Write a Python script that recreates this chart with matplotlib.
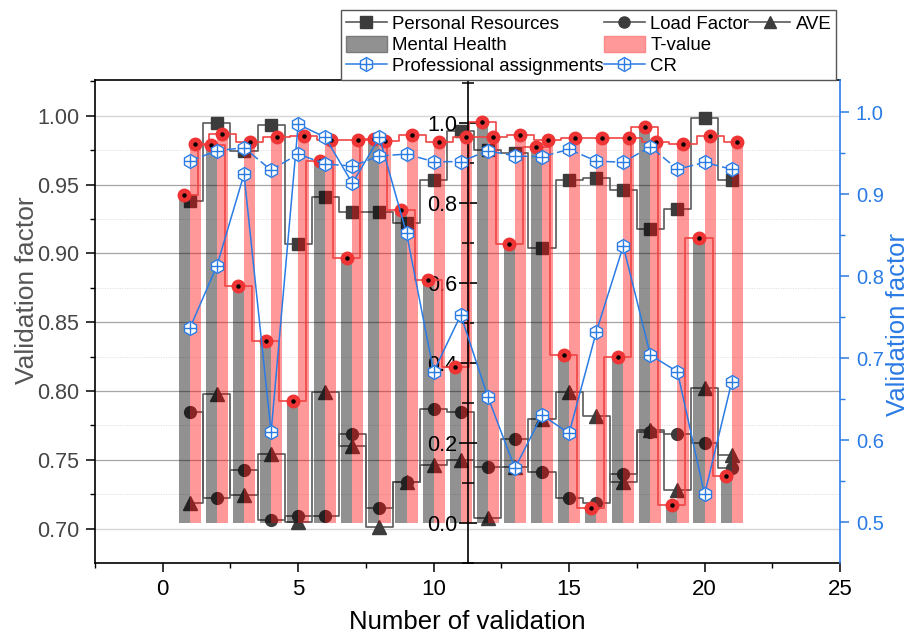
import numpy as np
import matplotlib
matplotlib.use('Agg')
import matplotlib.pyplot as plt
from matplotlib.lines import Line2D
from matplotlib.patches import Patch
from matplotlib.ticker import MultipleLocator, FormatStrFormatter

plt.rcParams['font.family'] = ['Liberation Sans', 'DejaVu Sans']

# data
x = np.arange(1, 22)
personal = [0.938, 0.995, 0.974, 0.993, 0.907, 0.941, 0.930, 0.930, 0.922, 0.953, 0.989,
            0.975, 0.973, 0.904, 0.953, 0.955, 0.946, 0.918, 0.932, 0.998, 0.953]
load = [0.785, 0.7225, 0.743, 0.706, 0.7095, 0.709, 0.769, 0.715, 0.734, 0.787, 0.785,
        0.745, 0.765, 0.741, 0.7225, 0.7185, 0.7395, 0.7705, 0.769, 0.762, 0.744]
ave = [0.7185, 0.798, 0.7245, 0.754, 0.705, 0.7995, 0.760, 0.7015, 0.734, 0.746, 0.750,
       0.7075, 0.7445, 0.780, 0.799, 0.782, 0.734, 0.772, 0.728, 0.8025, 0.7535]
mental = [0.819, 0.944, 0.592, 0.454, 0.304, 0.904, 0.661, 0.960, 0.782, 0.608, 0.388,
          1.003, 0.696, 0.940, 0.419, 0.0375, 0.413, 0.990, 0.044, 0.711, 0.1175]
tvalue = [0.946, 0.973, 0.953, 0.965, 0.968, 0.957, 0.957, 0.955, 0.969, 0.951, 0.965,
          0.965, 0.969, 0.957, 0.961, 0.963, 0.961, 0.953, 0.946, 0.968, 0.953]
prof = [0.7366, 0.8129, 0.9244, 0.6098, 0.9854, 0.9695, 0.9134, 0.9695, 0.8524, 0.6837, 0.7528,
        0.6532, 0.5659, 0.6309, 0.6085, 0.7317, 0.8370, 0.7040, 0.6837, 0.5341, 0.6707]
cr = [0.9406, 0.9532, 0.9568, 0.9296, 0.9491, 0.9370, 0.9345, 0.9467, 0.9491, 0.9398, 0.9398,
      0.9532, 0.9467, 0.9459, 0.9549, 0.9406, 0.9390, 0.9581, 0.9305, 0.9390, 0.9305]

dark = '#3c3c3c'
stepc = '#5a5a5a'
red = '#ee3434'
blue = '#2b7be5'
grey_txt = '#454545'

fig = plt.figure(figsize=(9.11, 6.37), dpi=100)
ax = fig.add_axes([95/911, 1-563/637, 745/911, 483/637])
ax_m = ax.twinx()
ax_r = ax.twinx()

# left axis: grid + dark step series
ax.set_xlim(-2.5, 25)
ax.set_ylim(0.6751, 1.0259)
for v in [0.70, 0.75, 0.80, 0.85, 0.90, 0.95, 1.00]:
    c = '#d6d6d6' if v in (0.70, 1.00) else '#a6a6a6'
    ax.axhline(v, color=c, lw=1.0 if v in (0.70, 1.00) else 0.9, zorder=0)
for v in [0.725, 0.775, 0.825, 0.875, 0.925, 0.975]:
    ax.axhline(v, color='#dcdcdc', lw=0.7, ls=(0, (1, 1.5)), zorder=0)

for vals, mk, ms in [(personal, 's', 8.5), (load, 'o', 8.5), (ave, '^', 9.5)]:
    ax.plot(x, vals, drawstyle='steps-mid', color=stepc, lw=1.2, zorder=2)
    ax.plot(x, vals, ls='none', marker=mk, ms=ms, color=dark, zorder=3)

ax.xaxis.set_major_locator(MultipleLocator(5))
ax.xaxis.set_minor_locator(MultipleLocator(2.5))
ax.yaxis.set_major_locator(MultipleLocator(0.05))
ax.yaxis.set_minor_locator(MultipleLocator(0.025))
ax.yaxis.set_major_formatter(FormatStrFormatter('%.2f'))
ax.tick_params(axis='both', which='major', direction='out', length=6.5, width=1.1, pad=5)
ax.tick_params(axis='both', which='minor', direction='out', length=3.6, width=1.0)
ax.tick_params(axis='y', labelsize=15.5, labelcolor=grey_txt)
ax.tick_params(axis='x', labelsize=16, labelcolor='black', top=False)
for s in ['left', 'bottom', 'top']:
    ax.spines[s].set_color('black')
    ax.spines[s].set_linewidth(1.2)
ax.spines['right'].set_visible(False)
ax.set_xlabel('Number of validation', fontsize=18.5)
ax.xaxis.set_label_coords(0.5, -0.097)
ax.set_ylabel('Validation factor', fontsize=19, color='#555555')
ax.yaxis.set_label_coords(-0.075, 0.565)

# middle axis: bars with red tops
ax_m.set_ylim(-0.1008, 1.1068)
ax_m.bar(x - 0.205, mental, width=0.41, color='black', alpha=0.43, lw=0, zorder=1)
ax_m.bar(x + 0.205, tvalue, width=0.41, color='red', alpha=0.4, lw=0, zorder=1)
for xx, vals in [(x - 0.205, mental), (x + 0.205, tvalue)]:
    ax_m.plot(xx, vals, drawstyle='steps-mid', color='#f04444', lw=1.2, zorder=2)
    ax_m.plot(xx, vals, ls='none', marker='o', ms=9, color=red, zorder=3)
    ax_m.plot(xx, vals, ls='none', marker='o', ms=2.2, color='black', zorder=4)
ax_m.yaxis.tick_left()
ax_m.yaxis.set_major_locator(MultipleLocator(0.2))
ax_m.yaxis.set_minor_locator(MultipleLocator(0.1))
ax_m.yaxis.set_major_formatter(FormatStrFormatter('%.1f'))
ax_m.tick_params(axis='y', which='major', direction='inout', length=13, width=1.2,
                 labelsize=15.5, pad=1, colors='black')
ax_m.tick_params(axis='y', which='minor', direction='inout', length=8, width=1.1)
for s in ['top', 'bottom', 'right']:
    ax_m.spines[s].set_visible(False)
ax_m.spines['left'].set_visible(True)
ax_m.spines['left'].set_position(('axes', 0.5))
ax_m.spines['left'].set_color('black')
ax_m.spines['left'].set_linewidth(1.2)

# right axis: blue hexagon series
ax_r.set_ylim(0.4504, 1.0394)
ax_r.plot(x, prof, color=blue, lw=1.1, marker='h', ms=10, mfc='white', mec=blue, mew=1.0, zorder=2)
ax_r.plot(x, prof, ls='none', marker='+', ms=8, mec=blue, mew=1.0, zorder=3)
ax_r.plot(x, cr, color=blue, lw=1.1, ls=(0, (6, 2.5)), marker='h', ms=10, mfc='white', mec=blue,
          mew=1.0, zorder=2)
ax_r.plot(x, cr, ls='none', marker='+', ms=8, mec=blue, mew=1.0, zorder=3)
ax_r.yaxis.set_major_locator(MultipleLocator(0.1))
ax_r.yaxis.set_minor_locator(MultipleLocator(0.05))
ax_r.yaxis.set_major_formatter(FormatStrFormatter('%.1f'))
ax_r.tick_params(axis='y', which='major', direction='out', length=6.5, width=1.1, pad=5,
                 colors=blue, labelsize=14.5)
ax_r.tick_params(axis='y', which='minor', direction='out', length=3.6, width=1.0, colors=blue)
for s in ['top', 'bottom', 'left']:
    ax_r.spines[s].set_visible(False)
ax_r.spines['right'].set_color(blue)
ax_r.spines['right'].set_linewidth(1.2)
ax_r.set_ylabel('Validation factor', fontsize=18.5, color=blue)
ax_r.yaxis.set_label_coords(1.0617, 0.493)

# legend
h_pr = Line2D([], [], color=stepc, lw=1.2, marker='s', ms=8, mfc=dark, mec=dark)
h_lf = Line2D([], [], color=stepc, lw=1.2, marker='o', ms=8, mfc=dark, mec=dark)
h_ave = Line2D([], [], color=stepc, lw=1.2, marker='^', ms=9, mfc=dark, mec=dark)
h_mh = Patch(facecolor='#919191', edgecolor='#7a7a7a')
h_tv = Patch(facecolor='#ff9999', edgecolor='#ff8888')
h_pa = (Line2D([], [], color=blue, lw=1.1, marker='h', ms=10, mfc='white', mec=blue),
        Line2D([], [], ls='none', marker='+', ms=8, mec=blue))
h_cr = (Line2D([], [], color=blue, lw=1.1, marker='h', ms=10, mfc='white', mec=blue),
        Line2D([], [], ls='none', marker='+', ms=8, mec=blue))
blank = Line2D([], [], ls='none')
handles = [h_pr, h_mh, h_pa, h_lf, h_tv, h_cr, h_ave, blank, blank]
labels = ['Personal Resources', 'Mental Health', 'Professional assignments',
          'Load Factor', 'T-value', 'CR', 'AVE', '', '']
leg = ax_r.legend(handles, labels, ncol=3, loc='lower right', bbox_to_anchor=(0.995, 1.0),
                  borderaxespad=0, fontsize=13.4, handlelength=2.2, handleheight=1.0,
                  handletextpad=0.3, columnspacing=0, labelspacing=0.12, borderpad=0.25,
                  fancybox=False, edgecolor='#555555', framealpha=1)
leg.get_frame().set_linewidth(1.0)

fig.savefig('out.png', dpi=100)
